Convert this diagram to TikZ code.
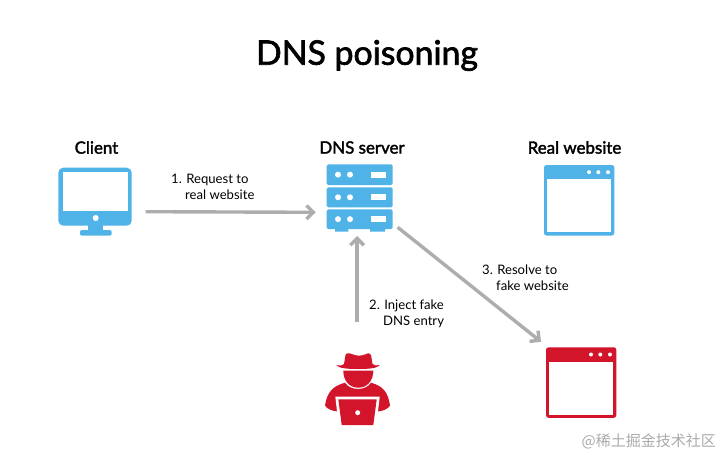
\documentclass[tikz,border=0pt]{standalone}
\usepackage{fontspec}
\setmainfont{Lato}
\newfontfamily\medfont[FakeBold=2]{Lato}
\newfontfamily\cjk{Noto Sans CJK SC}
\usetikzlibrary{arrows.meta,calc}
\definecolor{cblue}{HTML}{4FB3E8}
\definecolor{cred}{HTML}{D2152B}
\definecolor{cgray}{HTML}{ADADAD}
\pgfdeclarearrow{
  name=Chev,
  setup code={\pgfarrowssettipend{0pt}\pgfarrowssetlineend{-3pt}\pgfarrowssetvisualbackend{-9pt}\pgfarrowssetbackend{-9pt}},
  drawing code={\pgfsetdash{}{0pt}\pgfsetmiterjoin\pgfsetbuttcap
    \pgfpathmoveto{\pgfpoint{-9.2pt}{6.8pt}}\pgfpathlineto{\pgfpoint{-2.4pt}{0pt}}\pgfpathlineto{\pgfpoint{-9.2pt}{-6.8pt}}\pgfusepathqstroke},
  defaults={}
}
\tikzset{
  x=1pt,y=-1pt,
  conn/.style={draw=cgray,line width=3.4pt,-Chev},
  heading/.style={font=\fontsize{16.9}{18}\selectfont\medfont,text=black,inner sep=0pt},
  lbl/.style={font=\fontsize{13.1}{16}\selectfont,text=black,align=left,inner sep=0pt,anchor=north west},
  iconbox/.style={inner sep=0pt,outer sep=0pt,anchor=north west},
}
\newcommand{\browser}[5]{% x y name colour dummy
  \node[iconbox,minimum width=70.3pt,minimum height=70.5pt,fill=#4,rounded corners=2.5pt] (#3) at (#1,#2) {};
  \fill[white] (#1+3.3,#2+14.2) rectangle (#1+67,#2+67.3);
  \foreach \d in {45,54.3,64} \fill[white] (#1+\d,#2+7.2) circle (2pt);
}
\newcommand{\rackunit}[2]{% top bottom
  \fill[cblue,rounded corners=1.5pt] (326.7,#1) rectangle (392.7,#2);
  \fill[white] (338,{(#1+#2)/2}) circle (3pt) (350,{(#1+#2)/2}) circle (3pt);
  \fill[white] (370.7,{(#1+#2)/2-3}) rectangle (386,{(#1+#2)/2+3});
}
\begin{document}
\begin{tikzpicture}
\useasboundingbox (0,0) rectangle (720,455);
\fill[white] (0,0) rectangle (720,455);
\node[font=\fontsize{33.8}{38}\selectfont\medfont,inner sep=0pt] (title) at (367,55.5) {DNS poisoning};
\node[heading] (hclient) at (96.5,147.5) {Client};
\node[heading] (hdns) at (362,147.5) {DNS server};
\node[heading] (hreal) at (574.5,147.5) {Real website};
% client monitor
\node[iconbox,minimum width=73.4pt,minimum height=58pt,fill=cblue,rounded corners=5pt] (client) at (58.3,167.7) {};
\fill[white] (63.3,172.3) rectangle (127.7,211);
\fill[white] (95.7,218) circle (3pt);
\fill[cblue] (88.3,225) rectangle (103.3,232);
\fill[cblue,rounded corners=2pt] (80,230) rectangle (111.7,235.7);
% dns server
\node[iconbox,minimum width=66pt,minimum height=67pt] (dns) at (326.7,164.3) {};
\rackunit{164.3}{185}
\rackunit{187.3}{207.3}
\rackunit{209.3}{229}
\fill[cblue] (335,228) rectangle (348.3,231.5) (370,228) rectangle (385,231.5);
% windows
\browser{544}{165}{real}{cblue}{}
\browser{546}{347.3}{fake}{cred}{}
% hacker
\node[iconbox,minimum width=65pt,minimum height=72pt] (hacker) at (325,353.3) {};
\fill[cred] (338,411.5) .. controls (332,411) and (327,409) .. (325,405.5)
  .. controls (327,392) and (333,386) .. (345,382.7)
  .. controls (350,391) and (366,391) .. (371,382.7) .. controls (383,386) and (388,392) .. (390,405.5)
  .. controls (388,409) and (383,411) .. (378,411.5) -- cycle;
\fill[cred] (343.3,370.7) -- (373.3,370.7) .. controls (373.3,381) and (367,387.7) .. (358.3,387.7)
  .. controls (349.6,387.7) and (343.3,381) .. (343.3,370.7) -- cycle;
\fill[cred] (336,365) .. controls (340,366) and (343,365.5) .. (344,364) -- (345.5,355)
  .. controls (346,352.5) and (350,353) .. (353,354.5) .. controls (357,356) and (361,356) .. (365,354.5)
  .. controls (368,353) and (370.5,352.5) .. (371,355) -- (372.5,364) .. controls (374,365.5) and (377,366) .. (380,365)
  .. controls (377,368.5) and (368,369) .. (358,369) .. controls (348,369) and (339,368.5) .. (336,365) -- cycle;
\fill[white] (335.3,396.5) -- (379.7,396.5) -- (376.2,427) -- (338.8,427) -- cycle;
\fill[cred] (338.3,399.3) -- (376.7,399.3) -- (373.3,425) -- (341.7,425) -- cycle;
\fill[white] (357.7,412.7) circle (2.5pt);
% connectors
\draw[conn] ($(client.east)+(14,15)$) -- ($(dns.west)+(-11,14.5)$);
\draw[conn] ($(hacker.north)+(-0.5,-31)$) -- ($(dns.south)+(-2.7,4.7)$);
\draw[conn] ($(dns.south east)+(5,-4)$) -- ($(fake.north west)+(-5,-5.5)$);
% labels
\node[lbl] (l1) at (171,174) {1. Request to\\\hspace*{14pt}real website};
\node[lbl] (l2) at (369,300) {2. Inject fake\\\hspace*{14pt}DNS entry};
\node[lbl] (l3) at (482,265) {3. Resolve to\\\hspace*{14pt}fake website};
\node[font=\fontsize{15}{18}\selectfont\cjk,text=black!33,inner sep=0pt,anchor=east] (wm) at (716,441) {@稀土掘金技术社区};
\end{tikzpicture}
\end{document}
